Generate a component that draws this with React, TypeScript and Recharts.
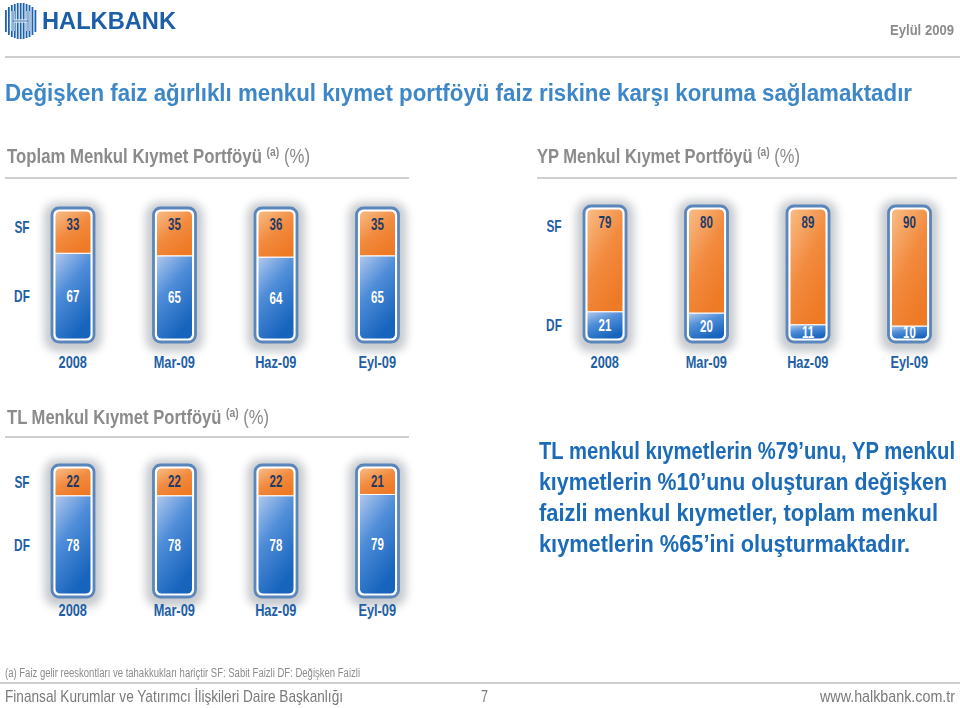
import React, { useLayoutEffect, useRef } from "react";
import { BarChart, Bar, XAxis, YAxis, LabelList } from "recharts";

// periods shared by all three panels
const periods = ["2008", "Mar-09", "Haz-09", "Eyl-09"];

// Toplam menkul kıymet portföyü (%)
const totalSF = [33, 35, 36, 35];
const totalDF = [67, 65, 64, 65];

// YP menkul kıymet portföyü (%)
const fxSF = [79, 80, 89, 90];
const fxDF = [21, 20, 11, 10];

// TL menkul kıymet portföyü (%)
const tlSF = [22, 22, 22, 21];
const tlDF = [78, 78, 78, 79];

const FONT = '"Liberation Sans", Arial, sans-serif';
const AXIS_BLUE = "#1f5fa6";
const GRAY = "#8b8b8b";
const LINE = "#cfcfcf";

// html text squeezed horizontally to a target width (no condensed font installed)
function FitText({ x, cy, w, size, color, weight = 700, children }: any) {
  const ref = useRef<HTMLDivElement>(null);
  useLayoutEffect(() => {
    const el = ref.current;
    if (!el) return;
    el.style.transform = "none";
    const natural = el.getBoundingClientRect().width;
    if (natural > 0) el.style.transform = `scaleX(${w / natural})`;
  });
  return (
    <div
      ref={ref}
      style={{
        position: "absolute",
        left: x,
        top: cy - size * 0.49,
        fontFamily: FONT,
        fontSize: size,
        lineHeight: 1,
        fontWeight: weight,
        color,
        whiteSpace: "nowrap",
        transformOrigin: "0 0",
      }}
    >
      {children}
    </div>
  );
}

function CondText({ x, cy, text, size, fill, squeeze = 0.78 }: any) {
  return (
    <text
      transform={`translate(${x},${cy + size * 0.36}) scale(${squeeze},1)`}
      textAnchor="middle"
      fontFamily={FONT}
      fontWeight={700}
      fontSize={size}
      fill={fill}
    >
      {text}
    </text>
  );
}

function Frame({ x, y, width, height, glowId }: any) {
  return (
    <g>
      <rect x={x - 11} y={y - 9} width={width + 22} height={height + 22} rx={14}
        fill="#9aa0a8" opacity={0.55} filter={`url(#${glowId})`} />
      <rect x={x - 3} y={y - 3} width={width + 6} height={height + 6} rx={7}
        fill="#fff" stroke="#5b86bb" strokeWidth={2.8} />
    </g>
  );
}

interface PanelProps {
  id: string;
  sf: number[];
  df: number[];
  left: number;
  top: number;
  width: number;
  marginTop: number;
  plotHeight: number;
  axisHeight: number;
  axisWidth: number;
  tickGap: number;
}

function PortfolioPanel({ id, sf, df, left, top, width, marginTop, plotHeight, axisHeight, axisWidth, tickGap }: PanelProps) {
  const data = periods.map((p, i) => ({ period: p, sf: sf[i], df: df[i] }));
  const sfTick = Math.max(100 - sf[0] / 2, 87);
  const dfTick = df[0] / 2;
  const height = marginTop + plotHeight + axisHeight;
  const plotBottom = marginTop + plotHeight;

  return (
    <div style={{ position: "absolute", left, top }}>
      <BarChart width={width} height={height} data={data} barSize={36}
        margin={{ top: marginTop, right: 0, bottom: 0, left: 0 }}>
        <defs>
          <linearGradient id={`${id}-orange`} x1="0" y1="0" x2="0.6" y2="1">
            <stop offset="0%" stopColor="#f8bd86" />
            <stop offset="55%" stopColor="#f28a3e" />
            <stop offset="100%" stopColor="#ee7a26" />
          </linearGradient>
          <linearGradient id={`${id}-blue`} x1="0" y1="0" x2="0.5" y2="1">
            <stop offset="0%" stopColor="#b3c9ee" />
            <stop offset="45%" stopColor="#4f8dd8" />
            <stop offset="100%" stopColor="#1764bd" />
          </linearGradient>
          <filter id={`${id}-glow`} x="-60%" y="-30%" width="220%" height="160%">
            <feGaussianBlur stdDeviation="4" />
          </filter>
        </defs>
        <XAxis dataKey="period" axisLine={false} tickLine={false} height={axisHeight}
          tick={(p: any) => (
            <CondText x={p.x} cy={plotBottom + tickGap} text={p.payload.value} size={16} fill={AXIS_BLUE} squeeze={0.8} />
          )} />
        <YAxis type="number" domain={[0, 100]} ticks={[dfTick, sfTick]} width={axisWidth}
          axisLine={false} tickLine={false}
          tick={(p: any) => (
            <CondText x={axisWidth} cy={p.y} text={p.payload.value === sfTick ? "SF" : "DF"} size={16} fill={AXIS_BLUE} squeeze={0.74} />
          )} />
        <Bar dataKey="df" stackId="a" fill={`url(#${id}-blue)`} stroke="#fff" strokeWidth={1}
          radius={[0, 0, 5, 5]} isAnimationActive={false}
          background={(p: any) => <Frame key={`bg-${p.index}`} {...p} glowId={`${id}-glow`} />}>
          <LabelList dataKey="df" content={(p: any) => (
            <CondText x={p.x + p.width / 2} cy={p.y + p.height / 2} text={String(p.value)} size={16} fill="#ffffff" squeeze={0.72} />
          )} />
        </Bar>
        <Bar dataKey="sf" stackId="a" fill={`url(#${id}-orange)`} stroke="#fff" strokeWidth={1}
          radius={[5, 5, 0, 0]} isAnimationActive={false}>
          <LabelList dataKey="sf" content={(p: any) => (
            <CondText x={p.x + p.width / 2} cy={p.y + 13} text={String(p.value)} size={16} fill="#1f3a66" squeeze={0.72} />
          )} />
        </Bar>
      </BarChart>
    </div>
  );
}

function Logo() {
  const stripes = [0, 1, 2, 3, 4, 5, 6, 7, 8, 9, 10];
  const inset = [7, 4, 2, 1, 0, 0, 0, 1, 2, 4, 7];
  return (
    <svg width={34} height={38} style={{ position: "absolute", left: 4, top: 2 }}>
      {stripes.map((s) => (
        <rect key={s} x={1 + s * 2.95} y={1 + inset[s]} width={1.8} height={36 - inset[s] * 2} fill="#1d62ad" />
      ))}
      <path d="M9 9 V29 M24 9 V29 M9 19 H24" stroke="#fff" strokeWidth={3.2} fill="none" />
      <path d="M9 9 V29 M24 9 V29 M9 19 H24" stroke="#1d62ad" strokeWidth={1} fill="none" />
    </svg>
  );
}

function Subtitle({ x, cy, w, label }: any) {
  return (
    <FitText x={x} cy={cy} w={w} size={21} color={GRAY}>
      {label}{" "}
      <span style={{ fontSize: "0.62em", position: "relative", top: "-0.55em" }}>(a)</span>{" "}
      <span style={{ fontWeight: 400 }}>(%)</span>
    </FitText>
  );
}

const hr = (left: number, top: number, width: number) => (
  <div style={{ position: "absolute", left, top, width, height: 2, background: LINE }} />
);

export default function App() {
  return (
    <div style={{ position: "absolute", left: 0, top: 0, width: 960, height: 708, background: "#fff", overflow: "hidden" }}>
      <Logo />
      <FitText x={42} cy={21} w={134} size={23} color="#1d5ea9" weight={700}>HALKBANK</FitText>
      <FitText x={890} cy={29} w={64} size={15} color={GRAY}>Eylül 2009</FitText>
      {hr(5, 56, 955)}

      <FitText x={5} cy={93} w={907} size={24} color="#3d87c7">
        Değişken faiz ağırlıklı menkul kıymet portföyü faiz riskine karşı koruma sağlamaktadır
      </FitText>

      <Subtitle x={7} cy={155} w={303} label="Toplam Menkul Kıymet Portföyü" />
      {hr(5, 177, 404)}
      <Subtitle x={537} cy={155} w={263} label="YP Menkul Kıymet Portföyü" />
      {hr(537, 177, 420)}

      <PortfolioPanel id="tot" sf={totalSF} df={totalDF} left={0} top={190} width={428}
        marginTop={21} plotHeight={128} axisHeight={41} axisWidth={22} tickGap={23} />
      <PortfolioPanel id="fx" sf={fxSF} df={fxDF} left={531} top={190} width={429}
        marginTop={19} plotHeight={130} axisHeight={41} axisWidth={23} tickGap={23} />

      <Subtitle x={7} cy={416} w={262} label="TL Menkul Kıymet Portföyü" />
      {hr(5, 436, 404)}

      <PortfolioPanel id="tl" sf={tlSF} df={tlDF} left={0} top={440} width={428}
        marginTop={28} plotHeight={126} axisHeight={30} axisWidth={22} tickGap={16} />

      <FitText x={539} cy={451} w={416} size={23} color="#1b6bb8">TL menkul kıymetlerin %79’unu, YP menkul</FitText>
      <FitText x={539} cy={482} w={408} size={23} color="#1b6bb8">kıymetlerin %10’unu oluşturan değişken</FitText>
      <FitText x={539} cy={513} w={399} size={23} color="#1b6bb8">faizli menkul kıymetler, toplam menkul</FitText>
      <FitText x={539} cy={544} w={371} size={23} color="#1b6bb8">kıymetlerin %65’ini oluşturmaktadır.</FitText>

      <FitText x={5} cy={673} w={355} size={12} color={GRAY} weight={400}>
        (a) Faiz gelir reeskontları ve tahakkukları hariçtir  SF: Sabit Faizli DF: Değişken Faizli
      </FitText>
      {hr(0, 682, 960)}
      <FitText x={5} cy={696} w={338} size={17} color="#7a7a7a" weight={400}>
        Finansal Kurumlar ve Yatırımcı İlişkileri Daire Başkanlığı
      </FitText>
      <FitText x={481} cy={696} w={7} size={17} color="#7a7a7a" weight={400}>7</FitText>
      <FitText x={820} cy={696} w={135} size={17} color="#7a7a7a" weight={400}>www.halkbank.com.tr</FitText>
    </div>
  );
}
